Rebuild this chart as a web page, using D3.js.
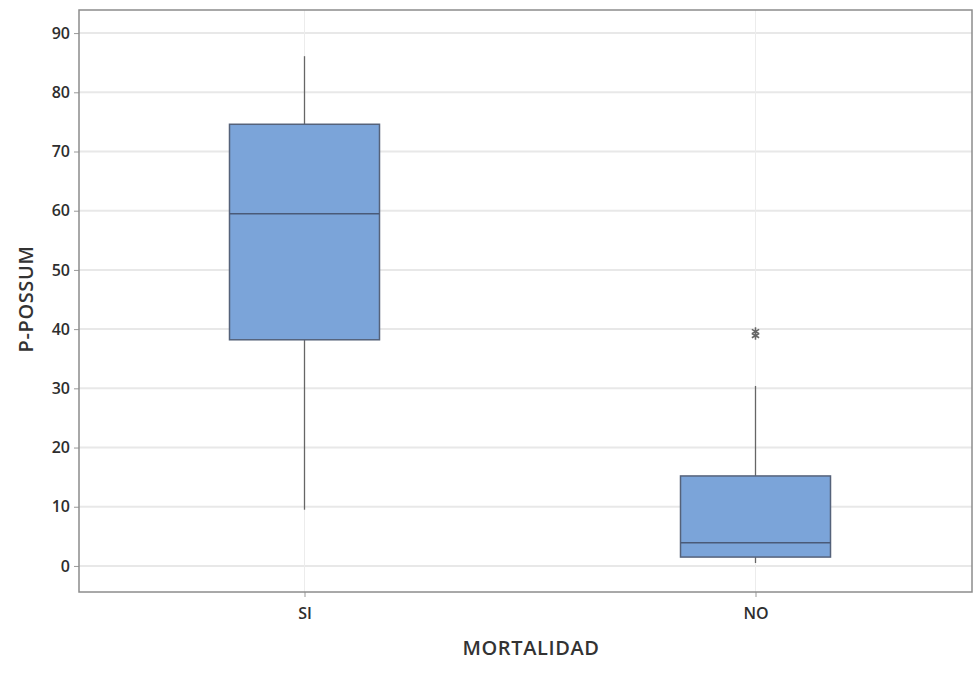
<!DOCTYPE html>
<html><head><meta charset="utf-8">
<script src="https://cdn.jsdelivr.net/npm/d3@7/dist/d3.min.js"></script>
<style>body{margin:0;background:#fff}text{font-family:"Open Sans",sans-serif}</style>
</head><body><svg id="c" width="976" height="677"></svg>
<script>
const categories = ["SI", "NO"];
const q1 = [38.2, 1.5];
const median = [59.5, 3.9];
const q3 = [74.6, 15.2];
const whiskerLow = [9.5, 0.5];
const whiskerHigh = [86.1, 30.4];
const outliers = [[], [39.6, 38.9]];
const yTicks = [0, 10, 20, 30, 40, 50, 60, 70, 80, 90];

const svg = d3.select("#c");
const L = 79, R = 972, T = 10, B = 592;
const y = d3.scaleLinear().domain([-4.4, 93.9]).range([B, T]);
const x = d3.scalePoint().domain(categories).range([L, 981]).padding(0.5);
const bw = 150;

// grid
svg.append("g").selectAll("line").data(yTicks).join("line")
  .attr("x1", L).attr("x2", R).attr("y1", d => y(d)).attr("y2", d => y(d))
  .attr("stroke", "#e8e8e8").attr("stroke-width", 2);
svg.append("g").selectAll("line").data(categories).join("line")
  .attr("x1", d => x(d)).attr("x2", d => x(d)).attr("y1", T).attr("y2", B)
  .attr("stroke", "#ececec").attr("stroke-width", 1);

// axes
const ya = svg.append("g").attr("transform", `translate(${L},0)`)
  .call(d3.axisLeft(y).tickValues(yTicks).tickSize(5).tickPadding(4));
const xa = svg.append("g").attr("transform", `translate(0,${B})`)
  .call(d3.axisBottom(x).tickSize(5).tickPadding(11));
[ya, xa].forEach(a => {
  a.select(".domain").remove();
  a.selectAll("line").attr("stroke", "#999");
  a.selectAll("text").attr("font-size", 16).attr("font-weight", 600).attr("fill", "#2e2e2e");
});

// frame
svg.append("rect").attr("x", L).attr("y", T).attr("width", R - L).attr("height", B - T)
  .attr("fill", "none").attr("stroke", "#8c8c8c").attr("stroke-width", 1.5);

// boxes
const g = svg.append("g");
categories.forEach((c, i) => {
  const cx = x(c);
  g.append("line").attr("x1", cx).attr("x2", cx).attr("y1", y(whiskerHigh[i])).attr("y2", y(q3[i]))
    .attr("stroke", "#666").attr("stroke-width", 1.3);
  g.append("line").attr("x1", cx).attr("x2", cx).attr("y1", y(q1[i])).attr("y2", y(whiskerLow[i]))
    .attr("stroke", "#666").attr("stroke-width", 1.3);
  g.append("rect").attr("x", cx - bw / 2).attr("width", bw)
    .attr("y", y(q3[i])).attr("height", y(q1[i]) - y(q3[i]))
    .attr("fill", "#7ba4d9").attr("stroke", "#55627a").attr("stroke-width", 1.5);
  g.append("line").attr("x1", cx - bw / 2).attr("x2", cx + bw / 2)
    .attr("y1", y(median[i])).attr("y2", y(median[i]))
    .attr("stroke", "#4a5a78").attr("stroke-width", 1.5);
  outliers[i].forEach(v => {
    g.append("path").attr("d", d3.symbol(d3.symbolAsterisk, 50)())
      .attr("transform", `translate(${cx},${y(v)})`)
      .attr("fill", "none").attr("stroke", "#666").attr("stroke-width", 1.5);
  });
});

// titles
svg.append("text").attr("x", 531).attr("y", 655).attr("text-anchor", "middle")
  .attr("font-size", 20).attr("font-weight", 600).attr("letter-spacing", 0.6).attr("fill", "#333").text("MORTALIDAD");
svg.append("text").attr("transform", `translate(33,${(T + B) / 2 - 2}) rotate(-90)`)
  .attr("text-anchor", "middle").attr("font-size", 20).attr("font-weight", 600).attr("letter-spacing", 0.6).attr("fill", "#333").text("P-POSSUM");
</script></body></html>
